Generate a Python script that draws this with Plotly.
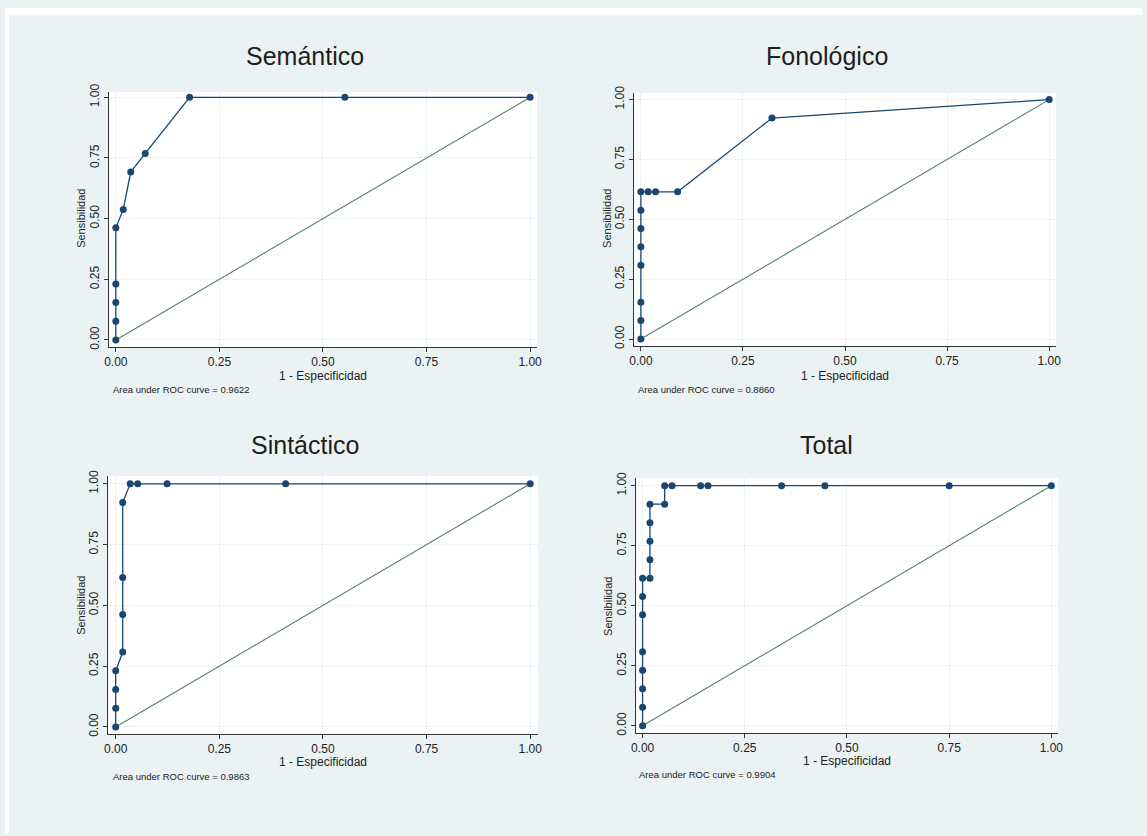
import plotly.graph_objects as go

# ---------------- data ----------------
titles = ["Semántico", "Fonológico", "Sintáctico", "Total"]
auc_values = ["0.9622", "0.8860", "0.9863", "0.9904"]

sem_x = [0, 0, 0, 0, 0, 0.018, 0.036, 0.071, 0.178, 0.553, 1.0]
sem_y = [0, 0.077, 0.154, 0.231, 0.462, 0.538, 0.692, 0.769, 1.0, 1.0, 1.0]

fon_x = [0, 0, 0, 0, 0, 0, 0, 0, 0.018, 0.036, 0.090, 0.321, 1.0]
fon_y = [0, 0.077, 0.154, 0.308, 0.385, 0.462, 0.538, 0.615, 0.615, 0.615, 0.615, 0.923, 1.0]

sin_x = [0, 0, 0, 0, 0.017, 0.017, 0.017, 0.017, 0.035, 0.053, 0.124, 0.410, 1.0]
sin_y = [0, 0.077, 0.154, 0.231, 0.308, 0.462, 0.615, 0.923, 1.0, 1.0, 1.0, 1.0, 1.0]

tot_x = [0, 0, 0, 0, 0, 0, 0, 0, 0.018, 0.018, 0.018, 0.018, 0.018,
         0.054, 0.054, 0.072, 0.142, 0.160, 0.340, 0.446, 0.750, 1.0]
tot_y = [0, 0.077, 0.154, 0.231, 0.308, 0.462, 0.538, 0.615, 0.615, 0.692, 0.769, 0.846, 0.923,
         0.923, 1.0, 1.0, 1.0, 1.0, 1.0, 1.0, 1.0, 1.0]

diag = [0, 1]
tick_vals = [0, 0.25, 0.5, 0.75, 1.0]
tick_text = ["0.00", "0.25", "0.50", "0.75", "1.00"]

series = [(sem_x, sem_y), (fon_x, fon_y), (sin_x, sin_y), (tot_x, tot_y)]

# ---------------- layout geometry (target picture pixels) ----------------
W, H = 1147, 836
OX, OY, VW, VH = 4, 8, 1139, 825

boxes = [(108, 537, 92, 347), (634, 1057, 93, 346), (107, 538, 476, 734), (636, 1059, 478, 733)]
xranges = [[-0.0169, 1.0169], [-0.0171, 1.0171], [-0.019, 1.019], [-0.0164, 1.0166]]
yranges = [[-0.029, 1.022], [-0.029, 1.0276], [-0.029, 1.032], [-0.030, 1.032]]
title_pos = [(305, 56), (827, 56), (305, 445), (827, 445)]
ytitle_pos = [(80, 218), (607, 218), (80, 605), (608, 606)]
xtitle_pos = [(323, 375.5), (845, 375.5), (323, 761.5), (847, 760.5)]
auc_pos = [(110, 389), (636, 389), (110, 776), (637, 774)]

BG = "#eaf2f3"
NAVY = "#1a476f"
GREEN = "#55806a"
FONT = "Liberation Sans, Arial, Helvetica, sans-serif"

def px(xp):
    return (xp - OX) / VW

def py(yp):
    return 1 - (yp - OY) / VH

fig = go.Figure()
annotations = []
layout_axes = {}
for i, ((xs, ys), (l, r, t, b)) in enumerate(zip(series, boxes)):
    n = "" if i == 0 else str(i + 1)
    xa, ya = "x" + n, "y" + n
    fig.add_trace(go.Scatter(x=diag, y=diag, mode="lines", xaxis=xa, yaxis=ya,
                             line=dict(color=GREEN, width=1.1), showlegend=False, hoverinfo="skip"))
    fig.add_trace(go.Scatter(x=xs, y=ys, mode="lines+markers", xaxis=xa, yaxis=ya,
                             line=dict(color=NAVY, width=1.3),
                             marker=dict(color=NAVY, size=7), showlegend=False))
    common = dict(showline=True, linecolor="#333333", linewidth=1, mirror=False,
                  ticks="outside", ticklen=4, tickwidth=1, tickcolor="#333333",
                  tickvals=tick_vals, ticktext=tick_text, showgrid=True, gridcolor=BG,
                  gridwidth=1, zeroline=False, tickfont=dict(family=FONT, size=12, color="#222222"))
    layout_axes["xaxis" + n] = dict(common, domain=[px(l), px(r)], range=xranges[i],
                                    anchor=ya)
    layout_axes["yaxis" + n] = dict(common, domain=[py(b), py(t)], range=yranges[i],
                                    anchor=xa, tickangle=-90)
    annotations.append(dict(text=titles[i], x=px(title_pos[i][0]), y=py(title_pos[i][1]),
                            xref="paper", yref="paper", showarrow=False,
                            xanchor="center", yanchor="middle",
                            font=dict(family=FONT, size=25, color="#1e1e1e")))
    annotations.append(dict(text="Sensibilidad", x=px(ytitle_pos[i][0]), y=py(ytitle_pos[i][1]),
                            xref="paper", yref="paper", showarrow=False, textangle=-90,
                            xanchor="center", yanchor="middle",
                            font=dict(family=FONT, size=11, color="#222222")))
    annotations.append(dict(text="1 - Especificidad", x=px(xtitle_pos[i][0]), y=py(xtitle_pos[i][1]),
                            xref="paper", yref="paper", showarrow=False,
                            xanchor="center", yanchor="middle",
                            font=dict(family=FONT, size=12, color="#222222")))
    annotations.append(dict(text="Area under ROC curve = " + auc_values[i],
                            x=px(auc_pos[i][0]), y=py(auc_pos[i][1]),
                            xref="paper", yref="paper", showarrow=False,
                            xanchor="left", yanchor="middle",
                            font=dict(family=FONT, size=9.5, color="#222222")))

shapes = [
    dict(type="rect", xref="paper", yref="paper", x0=0, x1=1, y0=1 - 7 / H, y1=1,
         fillcolor="white", line=dict(width=0), layer="above"),
    dict(type="rect", xref="paper", yref="paper", x0=0, x1=4 / W, y0=0, y1=1,
         fillcolor="white", line=dict(width=0), layer="above"),
]

fig.update_layout(width=W, height=H, margin=dict(l=0, r=0, t=0, b=0, pad=0),
                  paper_bgcolor=BG, plot_bgcolor="white", annotations=annotations,
                  shapes=shapes, font=dict(family=FONT), **layout_axes)

fig.write_html("out.html", config={"displayModeBar": False},
               post_script="document.body.style.margin='0';document.body.style.overflow='hidden';")
